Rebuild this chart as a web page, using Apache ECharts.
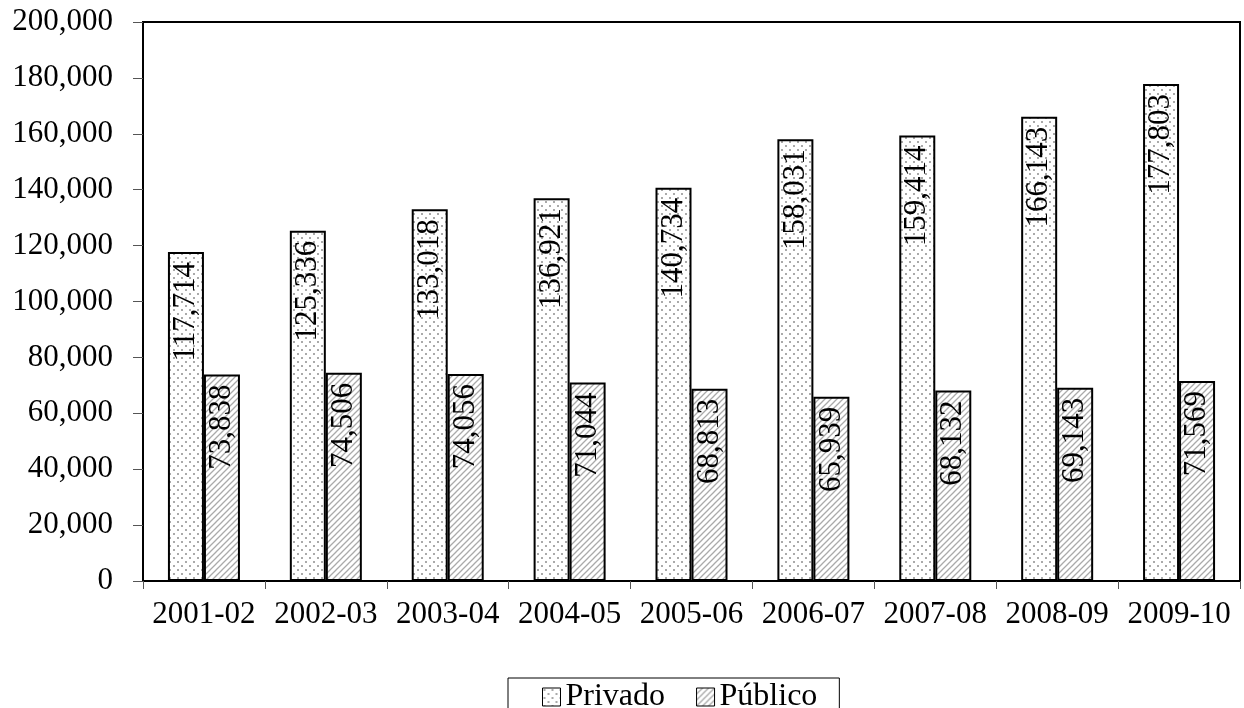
<!DOCTYPE html>
<html>
<head>
<meta charset="utf-8">
<script src="https://cdn.jsdelivr.net/npm/echarts@6/dist/echarts.min.js"></script>
<style>
 html, body { margin: 0; padding: 0; background: #fff; }
 #chart { width: 1244px; height: 708px; }
</style>
</head>
<body>
<div id="chart"></div>
<script>
var years = ['2001-02', '2002-03', '2003-04', '2004-05', '2005-06', '2006-07', '2007-08', '2008-09', '2009-10'];
var privado = [117714, 125336, 133018, 136921, 140734, 158031, 159414, 166143, 177803];
var publico = [73838, 74506, 74056, 71044, 68813, 65939, 68132, 69143, 71569];

// small canvas tiles used as fill patterns
function dotTile() {
  var c = document.createElement('canvas');
  c.width = 8; c.height = 8;
  var g = c.getContext('2d');
  g.fillStyle = '#fff';
  g.fillRect(0, 0, 8, 8);
  g.fillStyle = '#aaa';
  g.fillRect(1, 1, 2, 2);
  g.fillRect(5, 5, 2, 2);
  return c;
}
function hatchTile() {
  var c = document.createElement('canvas');
  c.width = 6; c.height = 6;
  var g = c.getContext('2d');
  g.fillStyle = '#fff';
  g.fillRect(0, 0, 6, 6);
  g.strokeStyle = '#aaa';
  g.lineWidth = 1.3;
  g.beginPath();
  g.moveTo(-1, 7); g.lineTo(7, -1);
  g.moveTo(-1, 1); g.lineTo(1, -1);
  g.moveTo(5, 7); g.lineTo(7, 5);
  g.stroke();
  return c;
}

var font = '"Liberation Serif", "Times New Roman", serif';
var chart = echarts.init(document.getElementById('chart'));

function fmt(v) { return echarts.format.addCommas(v); }

var barLabel = {
  show: true,
  position: 'insideTop',
  rotate: 90,
  align: 'right',
  verticalAlign: 'middle',
  distance: 10,
  fontFamily: font,
  fontSize: 31,
  color: '#000',
  formatter: function (p) { return fmt(p.value); }
};

var option = {
  animation: false,
  backgroundColor: '#fff',
  grid: {
    left: 143, right: 4, top: 22, bottom: 127,
    show: true, borderColor: '#000', borderWidth: 2
  },
  legend: {
    data: ['Privado', 'Público'],
    top: 678,
    left: 508,
    icon: 'rect',
    borderColor: '#000',
    borderWidth: 1,
    padding: [3, 22, 10, 34],
    itemWidth: 18,
    itemHeight: 18,
    itemGap: 31,
    itemStyle: { borderColor: '#000', borderWidth: 1 },
    textStyle: { fontFamily: font, fontSize: 32, color: '#000' }
  },
  xAxis: {
    type: 'category',
    data: years,
    axisLine: { lineStyle: { color: '#000', width: 2 } },
    axisTick: { show: true, length: 8, lineStyle: { color: '#555' } },
    axisLabel: { fontFamily: font, fontSize: 31, color: '#000', margin: 18, interval: 0, hideOverlap: false }
  },
  yAxis: {
    type: 'value',
    min: 0, max: 200000, interval: 20000,
    axisLine: { show: true, lineStyle: { color: '#000', width: 2 } },
    axisTick: { show: true, length: 10, lineStyle: { color: '#555' } },
    splitLine: { show: false },
    axisLabel: { fontFamily: font, fontSize: 31, color: '#000', margin: 30, formatter: fmt }
  },
  series: [
    {
      name: 'Privado', type: 'bar', data: privado,
      barWidth: 36, barGap: '0%',
      itemStyle: { color: { image: dotTile(), repeat: 'repeat' }, borderColor: '#000', borderWidth: 2 },
      label: barLabel
    },
    {
      name: 'Público', type: 'bar', data: publico,
      barWidth: 36,
      itemStyle: { color: { image: hatchTile(), repeat: 'repeat' }, borderColor: '#000', borderWidth: 2 },
      label: barLabel
    }
  ]
};
chart.setOption(option);
</script>
</body>
</html>
